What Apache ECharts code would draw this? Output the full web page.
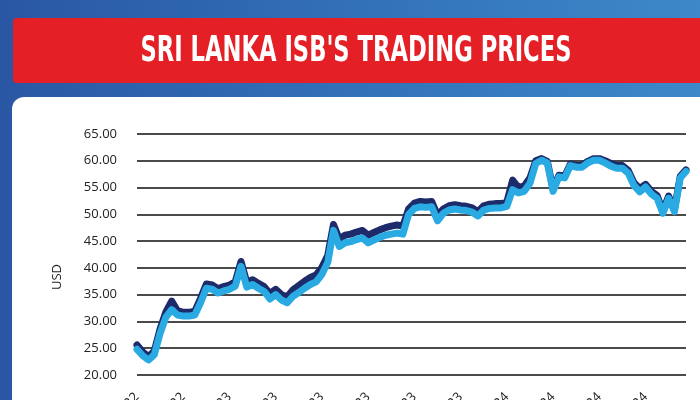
<!DOCTYPE html>
<html><head><meta charset="utf-8">
<script src="https://cdn.jsdelivr.net/npm/echarts@6/dist/echarts.min.js"></script>
<style>html,body{margin:0;padding:0;background:#fff}#c{width:700px;height:400px}</style>
</head><body><div id="c"></div>
<script>
// ---- data ----
const titleText = "SRI LANKA ISB'S TRADING PRICES";
const yAxisName = 'USD';
const months = ['Oct-22','Nov-22','Dec-22','Jan-23','Feb-23','Mar-23','Apr-23','May-23','Jun-23','Jul-23','Aug-23','Sep-23',
                'Oct-23','Nov-23','Dec-23','Jan-24','Feb-24','Mar-24','Apr-24','May-24','Jun-24','Jul-24','Aug-24','Sep-24'];
const weekDays = ['1','8','16','23'];
const yMin = 20, yMax = 65, yStep = 5;

// upper (navy) bond prices
const darkSeries = [
  25.6,24.3,23.4,24.5,28.6,31.8,33.8,32.0,31.7,31.7,31.9,34.3,37.0,36.8,36.1,36.5,
  36.8,37.4,41.2,37.3,37.8,37.1,36.5,35.2,36.0,35.0,34.6,35.9,36.7,37.5,38.2,38.7,
  40.1,42.3,48.1,45.4,46.1,46.3,46.7,47.0,46.1,46.6,47.1,47.5,47.8,48.0,47.8,51.0,
  52.1,52.4,52.3,52.4,49.8,51.0,51.6,51.8,51.6,51.5,51.2,50.5,51.6,51.9,52.0,52.0,
  52.3,56.4,55.0,55.3,56.8,60.0,60.4,59.9,54.7,57.3,57.1,59.4,59.1,59.1,59.9,60.4,
  60.4,60.0,59.5,59.1,59.1,58.2,55.9,54.8,55.6,54.3,53.5,50.6,53.4,50.9,57.1,58.3
];
// lower (light blue) bond prices
const lightSeries = [
  24.8,23.6,22.8,23.8,27.8,30.8,32.2,31.2,31.0,31.0,31.2,33.5,36.2,36.0,35.3,35.7,
  36.0,36.6,40.3,36.4,36.9,36.2,35.6,34.2,35.0,34.0,33.5,34.7,35.4,36.2,36.9,37.4,
  38.8,41.0,47.0,44.0,44.7,44.9,45.3,45.6,44.7,45.2,45.7,46.1,46.3,46.5,46.3,50.0,
  51.1,51.4,51.3,51.4,48.8,50.2,50.8,51.0,50.8,50.7,50.4,49.7,50.8,51.1,51.2,51.2,
  51.5,54.6,54.0,54.3,55.8,59.5,60.1,59.6,54.3,57.0,56.8,59.1,58.8,58.8,59.6,60.1,
  60.1,59.6,59.0,58.6,58.6,57.7,55.4,54.2,55.1,53.8,53.0,50.2,53.0,50.5,56.8,58.0
];

// ---- build categories ----
const categories = [];
months.forEach(m => weekDays.forEach(d => categories.push(d + '-' + m)));

// ---- title scaling to mimic condensed font ----
const titleFont = 'bold 36px "Liberation Sans Narrow", "DejaVu Sans Condensed", "Liberation Sans", sans-serif';
const ctx = document.createElement('canvas').getContext('2d');
ctx.font = titleFont;
const tw = ctx.measureText(titleText).width;
const titleScale = 431 / tw;

const chart = echarts.init(document.getElementById('c'), null, {renderer: 'canvas'});
const axisFont = '"Open Sans", "DejaVu Sans", sans-serif';
chart.setOption({
  animation: false,
  backgroundColor: '#ffffff',
  graphic: [
    { type: 'rect', z: -10, shape: {x: 0, y: 0, width: 700, height: 400},
      style: { fill: {type: 'linear', x: 0, y: 0, x2: 1, y2: 0,
        colorStops: [{offset: 0, color: '#2a57a4'}, {offset: 0.5, color: '#3270b8'}, {offset: 1, color: '#3d88c9'}]} } },
    { type: 'rect', z: -9, shape: {x: 13, y: 18, width: 700, height: 65, r: 4},
      style: { fill: '#e41f26' } },
    { type: 'rect', z: -8, shape: {x: 12, y: 97, width: 700, height: 320, r: [12, 0, 0, 0]},
      style: { fill: '#ffffff' } },
    { type: 'text', z: 5, x: 356, y: 52, scaleX: titleScale, scaleY: 1,
      style: { text: titleText, font: titleFont, fill: '#ffffff', textAlign: 'center', textVerticalAlign: 'middle' } },
    { type: 'text', z: 5, x: 57, y: 277, rotation: Math.PI / 2,
      style: { text: yAxisName, font: '13px ' + axisFont, fill: '#222', textAlign: 'center', textVerticalAlign: 'middle' } }
  ],
  grid: { left: 137, right: 14, top: 134, bottom: 25, containLabel: false, outerBoundsMode: 'none' },
  xAxis: {
    type: 'category', data: categories, boundaryGap: false, z: 5,
    axisLine: {show: false}, axisTick: {show: false}, splitLine: {show: false},
    axisLabel: {
      interval: 7, rotate: 45, margin: 20, fontSize: 13, fontFamily: axisFont, color: '#222',
      formatter: v => v.split('-').slice(1).join('-')
    }
  },
  yAxis: {
    type: 'value', min: yMin, max: yMax, interval: yStep, z: 5,
    axisLine: {show: false}, axisTick: {show: false},
    axisLabel: { margin: 20, fontSize: 13, fontFamily: axisFont, color: '#222', formatter: v => v.toFixed(2) },
    splitLine: { lineStyle: { color: '#4a4a4a', width: 2 } }
  },
  series: [
    { type: 'line', name: 'navy', data: darkSeries, showSymbol: false, z: 10,
      lineStyle: { color: '#1d2b6b', width: 7, cap: 'round', join: 'round' } },
    { type: 'line', name: 'light', data: lightSeries, showSymbol: false, z: 11,
      lineStyle: { color: '#2aaae2', width: 7, cap: 'round', join: 'round' } }
  ]
});
</script></body></html>
